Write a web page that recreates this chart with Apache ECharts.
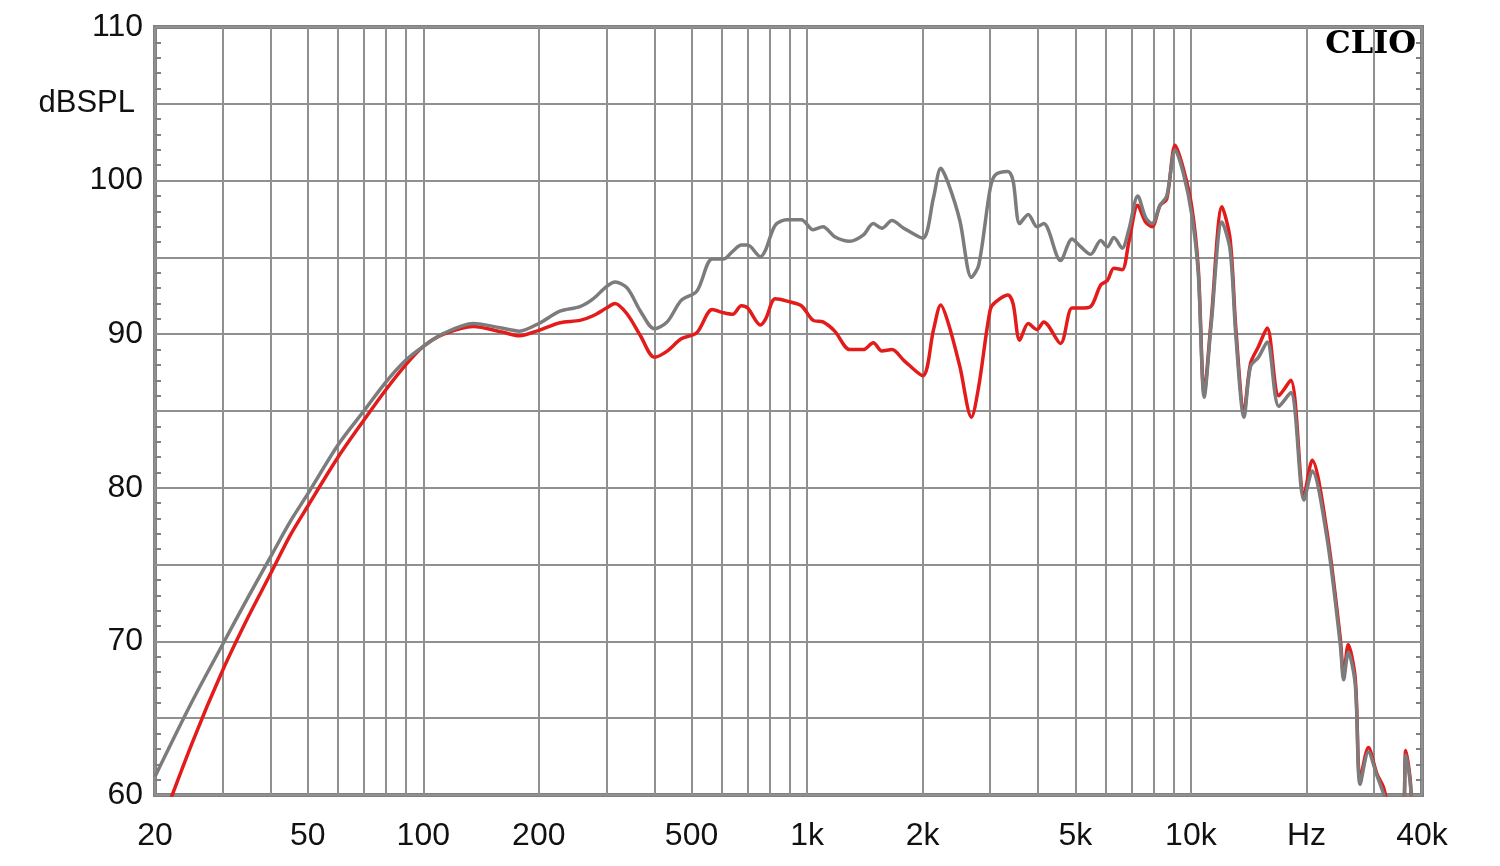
<!DOCTYPE html>
<html>
	<head>
		<meta charset="utf-8">
		<title>CLIO</title>
		<script src="https://cdn.jsdelivr.net/npm/echarts@6/dist/echarts.min.js"></script>
		<style>
			html, body { margin: 0; padding: 0; background: #fff; }
			#main { width: 1500px; height: 866px; }
		</style>
	</head>
	<body>
		<div id="main"></div>
		<script>
			// 频率点 (Hz)
			var freq = [20, 25, 30, 35, 40, 45, 50, 60, 70, 80,
				90, 100, 113, 135, 160, 178, 200, 227, 256, 277,
				300, 316, 340, 368, 400, 432, 470, 516, 566, 606,
				640, 674, 700, 756, 780, 826, 886, 966, 1037, 1100,
				1180, 1292, 1400, 1488, 1566, 1664, 1786, 2000, 2135, 2230,
				2334, 2500, 2680, 2800, 3000, 3100, 3336, 3440, 3580, 3768,
				3970, 4136, 4574, 4900, 5160, 5480, 5820, 6060, 6300, 6620,
				6890, 7270, 7620, 7920, 8314, 8650, 9100, 9550, 10050, 10450,
				10830, 11300, 12050, 12650, 13100, 13750, 14300, 15000, 15800, 16950,
				18200, 19700, 20700, 22600, 24500, 25000, 25700, 26800, 27600, 29000,
				30500, 31750, 33500, 35500, 36300, 37200, 38000, 40000]
			// 灰色曲线 (dBSPL)
			var grayDb = [61.2, 66.1, 69.8, 72.9, 75.5, 77.8, 79.6, 82.8, 85.0, 86.9,
				88.3, 89.2, 90.05, 90.7, 90.4, 90.2, 90.7, 91.5, 91.8, 92.3,
				93.1, 93.4, 93.0, 91.5, 90.35, 90.8, 92.2, 92.8, 94.9, 94.9,
				95.4, 95.8, 95.8, 95.05, 95.5, 97.1, 97.45, 97.45, 96.8, 97.0,
				96.35, 96.05, 96.45, 97.2, 96.9, 97.4, 96.9, 96.25, 98.9, 100.8,
				99.8, 97.4, 93.7, 94.5, 99.5, 100.4, 100.6, 100.0, 97.2, 97.8,
				97.0, 97.2, 94.8, 96.2, 95.7, 95.2, 96.1, 95.7, 96.3, 95.6,
				96.8, 99.0, 97.6, 97.2, 98.4, 99.0, 102.0, 100.5, 97.8, 94.0,
				85.9, 90.7, 97.3, 95.5, 89.8, 84.6, 87.9, 88.5, 89.5, 85.3,
				86.2, 79.2, 81.1, 76.8, 69.8, 67.5, 69.3, 67.2, 60.7, 62.8,
				61.3, 60.1, 58.5, 58.5, 62.6, 61.0, 58.5, 57]
			// 红色曲线 (dBSPL)
			var redDb = [57.0, 63.4, 68.1, 71.6, 74.4, 76.9, 78.8, 82.0, 84.4, 86.4,
				88.0, 89.2, 90.0, 90.5, 90.15, 89.9, 90.25, 90.75, 90.9, 91.2,
				91.7, 92.0, 91.3, 89.9, 88.5, 88.9, 89.7, 90.1, 91.6, 91.4,
				91.3, 91.85, 91.7, 90.6, 91.0, 92.3, 92.15, 91.85, 90.9, 90.8,
				90.2, 89.0, 89.0, 89.45, 88.9, 89.0, 88.3, 87.3, 90.3, 91.9,
				90.7, 87.9, 84.6, 86.6, 91.6, 92.1, 92.55, 92.0, 89.6, 90.7,
				90.3, 90.8, 89.4, 91.7, 91.7, 91.8, 93.2, 93.5, 94.3, 94.2,
				96.0, 98.4, 97.3, 97.0, 98.4, 98.8, 102.3, 100.8, 98.3, 94.3,
				86.2, 91.0, 98.3, 96.2, 90.3, 85.0, 88.1, 89.2, 90.4, 86.0,
				87.0, 79.5, 81.8, 77.2, 70.2, 67.8, 69.8, 67.6, 61.0, 63.1,
				61.4, 60.5, 58.5, 58.5, 62.9, 61.2, 58.5, 57]

			// 竖向网格线和刻度标签
			var gridFreqs = [20, 30, 40, 50, 60, 70, 80, 90, 100, 200, 300, 400, 500, 600, 700, 800, 900,
				1000, 2000, 3000, 4000, 5000, 6000, 7000, 8000, 9000, 10000, 20000, 30000, 40000]
			var labelFreqs = [20, 50, 100, 200, 500, 1000, 2000, 5000, 10000, 20000, 40000]
			var labelText = ['20', '50', '100', '200', '500', '1k', '2k', '5k', '10k', 'Hz', '40k']

			var lg = function(f) { return Math.log10(f) }

			function toPairs(db) {
				return freq.map(function(f, i) { return [lg(f), db[i]] })
			}

			function freqLabel(v) {
				var i = labelFreqs.indexOf(Math.round(Math.pow(10, v)))
				return i >= 0 ? labelText[i] : ''
			}

			var chart = echarts.init(document.getElementById('main'))
			var font = { fontFamily: 'Liberation Sans', fontSize: 32, color: '#111' }

			chart.setOption({
				animation: false,
				backgroundColor: '#fff',
				grid: {
					left: 155, right: 78, top: 27, bottom: 71,
					show: true, borderColor: '#808080', borderWidth: 4
				},
				xAxis: {
					type: 'value',
					min: lg(20), max: lg(40000),
					axisLine: { show: false },
					axisTick: { show: false, customValues: gridFreqs.map(lg) },
					splitLine: { show: true, lineStyle: { color: '#909090', width: 2 } },
					axisLabel: Object.assign({
						customValues: labelFreqs.map(lg),
						formatter: freqLabel,
						margin: 25,
						hideOverlap: false
					}, font)
				},
				yAxis: [{
					type: 'value', min: 60, max: 110, interval: 5,
					axisLine: { show: false },
					axisTick: { show: false, inside: true },
					minorTick: { show: true, splitNumber: 5, length: 6, lineStyle: { color: '#808080', width: 2 } },
					splitLine: { show: true, lineStyle: { color: '#909090', width: 2 } },
					axisLabel: Object.assign({
						margin: 12,
						formatter: function(v) {
							if (v === 105) return '{u|dBSPL}'
							return v % 10 === 0 ? String(v) : ''
						},
						rich: { u: { fontFamily: 'Liberation Sans', fontSize: 31, color: '#111', padding: [0, 8, 0, 0] } }
					}, font)
				}, {
					type: 'value', min: 60, max: 110, interval: 5, position: 'right',
					axisLine: { show: false },
					axisTick: { show: false, inside: true },
					minorTick: { show: true, splitNumber: 5, length: 6, lineStyle: { color: '#808080', width: 2 } },
					splitLine: { show: false },
					axisLabel: { show: false }
				}],
				graphic: [{
					type: 'text', right: 84, top: 29,
					style: { text: 'CLIO', font: 'bold 32px "DejaVu Serif"', fill: '#000' }
				}],
				series: [{
					name: 'red', type: 'line', data: toPairs(redDb),
					showSymbol: false, smooth: 0.3, clip: true,
					lineStyle: { color: '#e31b1b', width: 3.5 }
				}, {
					name: 'gray', type: 'line', data: toPairs(grayDb),
					showSymbol: false, smooth: 0.3, clip: true,
					lineStyle: { color: '#7c7c7c', width: 3.5 }
				}]
			})
		</script>
	</body>
</html>
